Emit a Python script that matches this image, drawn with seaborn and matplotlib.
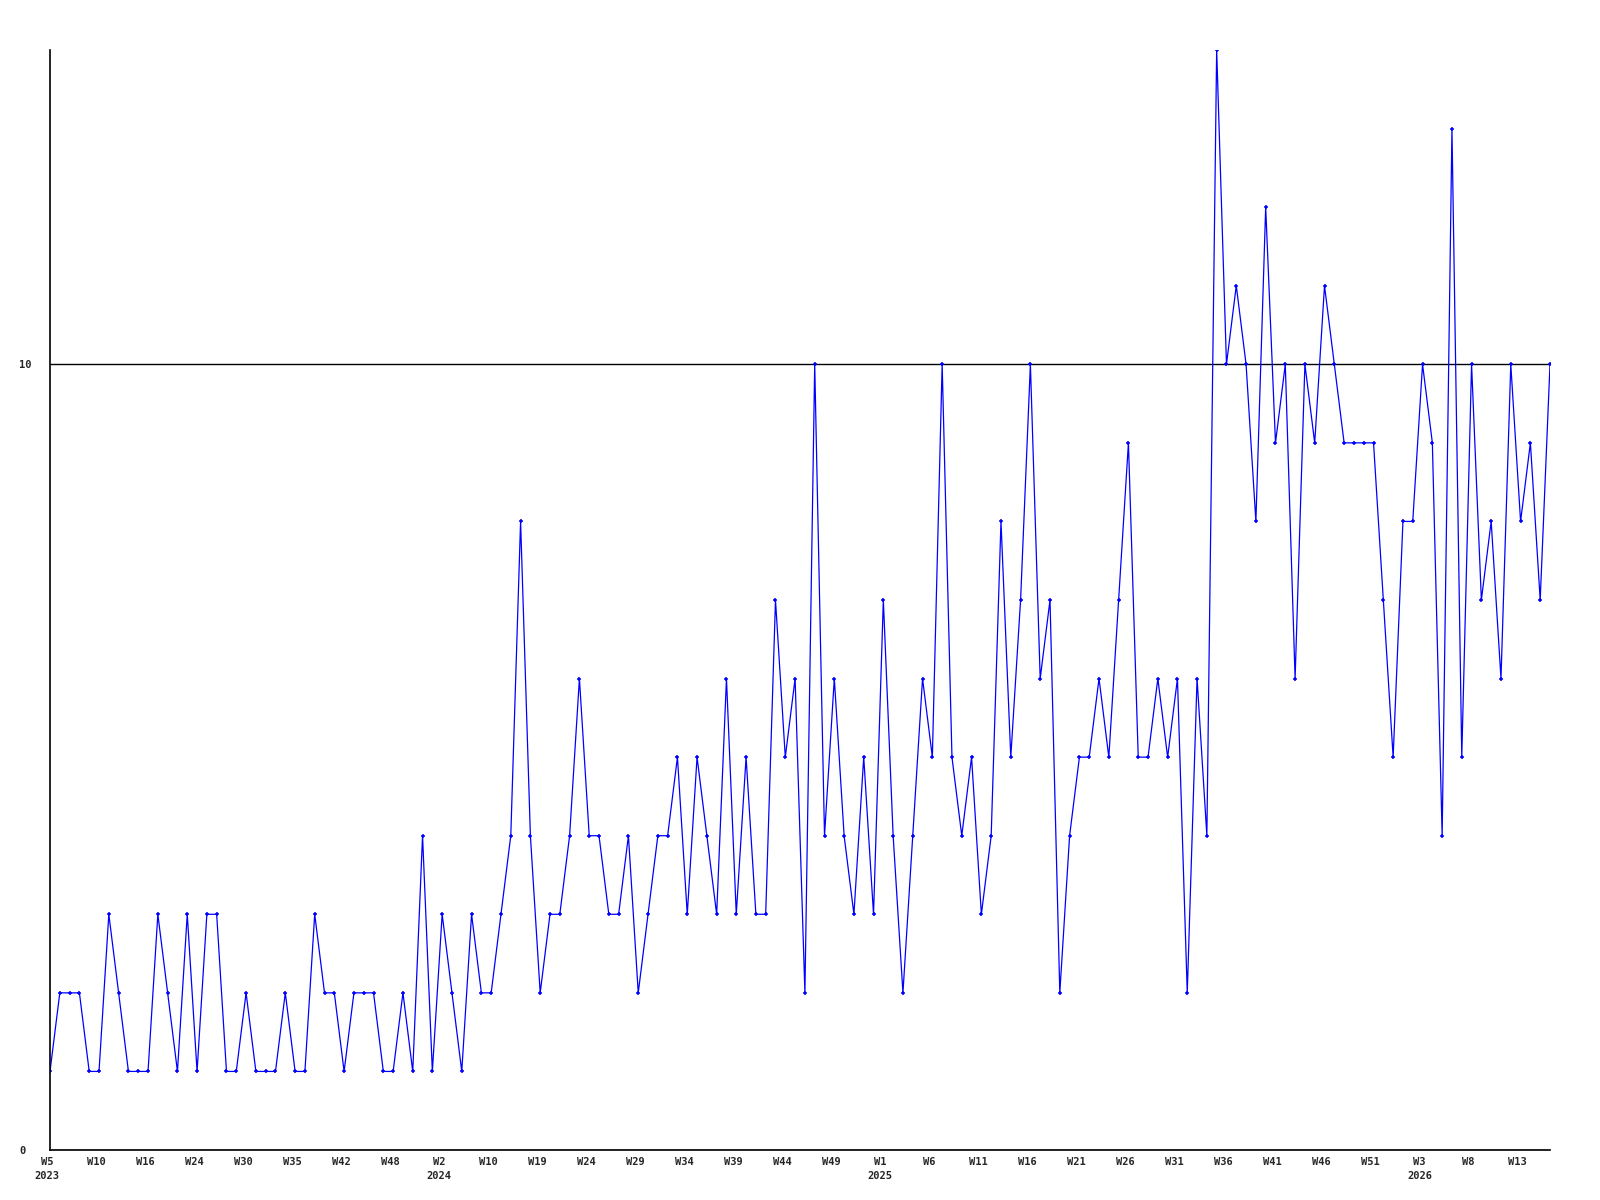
import matplotlib
matplotlib.use("Agg")
import matplotlib.pyplot as plt
import matplotlib.transforms as mtransforms
import seaborn as sns
import numpy as np
import pandas as pd

# Weekly values (one point per week shown)
values = [
    1, 2, 2, 2, 1, 1, 3, 2, 1, 1,
    1, 3, 2, 1, 3, 1, 3, 3, 1, 1,
    2, 1, 1, 1, 2, 1, 1, 3, 2, 2,
    1, 2, 2, 2, 1, 1, 2, 1, 4, 1,
    3, 2, 1, 3, 2, 2, 3, 4, 8, 4,
    2, 3, 3, 4, 6, 4, 4, 3, 3, 4,
    2, 3, 4, 4, 5, 3, 5, 4, 3, 6,
    3, 5, 3, 3, 7, 5, 6, 2, 10, 4,
    6, 4, 3, 5, 3, 7, 4, 2, 4, 6,
    5, 10, 5, 4, 5, 3, 4, 8, 5, 7,
    10, 6, 7, 2, 4, 5, 5, 6, 5, 7,
    9, 5, 5, 6, 5, 6, 2, 6, 4, 14,
    10, 11, 10, 8, 12, 9, 10, 6, 10, 9,
    11, 10, 9, 9, 9, 9, 7, 5, 8, 8,
    10, 9, 4, 13, 5, 10, 7, 8, 6, 10,
    8, 9, 7, 10,
]

# Tick labels, every 5th point
tick_weeks = ["W5", "W10", "W16", "W24", "W30", "W35", "W42", "W48",
              "W2", "W10", "W19", "W24", "W29", "W34", "W39", "W44", "W49",
              "W1", "W6", "W11", "W16", "W21", "W26", "W31", "W36", "W41",
              "W46", "W51", "W3", "W8", "W13"]
tick_years = ["2023", "", "", "", "", "", "", "",
              "2024", "", "", "", "", "", "", "", "",
              "2025", "", "", "", "", "", "", "", "",
              "", "", "2026", "", ""]
tick_step = 5
y_ticks = [0, 10]
y_max = 14

df = pd.DataFrame({"idx": np.arange(len(values)), "value": values})

sns.set_theme(style="white")
plt.rcParams["font.family"] = ["DejaVu Sans Mono", "DejaVu Sans"]
plt.rcParams["font.weight"] = "bold"

fig = plt.figure(figsize=(16, 12), dpi=100)
ax = fig.add_axes([50 / 1600, 50 / 1200, 1500 / 1600, 1100 / 1200])

sns.lineplot(data=df, x="idx", y="value", ax=ax, color="#0000ff",
             linewidth=0.9, marker="+", markersize=3.5,
             markeredgewidth=1.1, markeredgecolor="#0000ff")

ax.set_xlim(0, len(values) - 1)
ax.set_ylim(0, y_max)

ax.set_yticks(y_ticks)
ax.set_yticklabels([str(v) for v in y_ticks], fontsize=7.5, fontweight="bold")
for lab in ax.get_yticklabels():
    lab.set_horizontalalignment("left")
ax.tick_params(axis="y", length=0, pad=22)

xt = np.arange(len(tick_weeks)) * tick_step
ax.set_xticks(xt)
labels = [w + ("\n" + y if y else "") for w, y in zip(tick_weeks, tick_years)]
ax.set_xticklabels(labels, fontsize=7.5, fontweight="bold", linespacing=1.5,
                   va="top")
ax.tick_params(axis="x", length=0, pad=5)
shift = mtransforms.ScaledTranslation(-3 / 100, 0, fig.dpi_scale_trans)
for lab in ax.get_xticklabels():
    lab.set_transform(lab.get_transform() + shift)

ax.yaxis.grid(True, color="black", linewidth=1.0)
ax.xaxis.grid(False)
ax.set_axisbelow(True)

for s in ["top", "right"]:
    ax.spines[s].set_visible(False)
for s in ["left", "bottom"]:
    ax.spines[s].set_color("black")
    ax.spines[s].set_linewidth(1.2)

ax.set_xlabel("")
ax.set_ylabel("")

fig.savefig("out.png", dpi=100)
